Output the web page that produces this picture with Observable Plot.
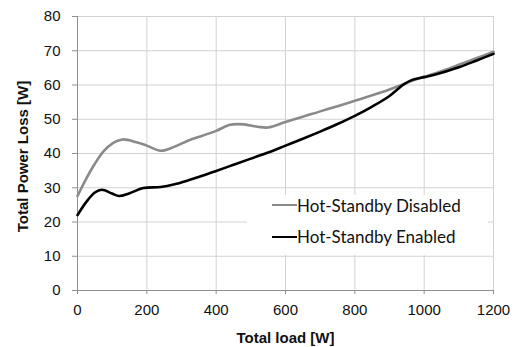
<!DOCTYPE html>
<html><head><meta charset="utf-8">
<script src="https://cdn.jsdelivr.net/npm/d3@7"></script>
<script src="https://cdn.jsdelivr.net/npm/@observablehq/plot@0.6"></script>
<style>
body{margin:0;background:#fff}
#wrap{position:relative;width:519px;height:347px;overflow:hidden}
#legend{position:absolute;left:247px;top:195px;width:241px;height:60px;background:#fff;font-family:Lato,'Open Sans',sans-serif;font-size:17px;color:#111}
.row{position:absolute;left:25px;height:20px;display:flex;align-items:center}
.sw{width:25px;height:0;border-top-style:solid;border-top-width:2.5px}
</style>
</head><body><div id="wrap"></div>
<script>
const xTicks = [0, 200, 400, 600, 800, 1000, 1200];
const yTicks = [0, 10, 20, 30, 40, 50, 60, 70, 80];
const seriesNames = ["Hot-Standby Disabled", "Hot-Standby Enabled"];
const seriesColors = ["#8a8a8a", "#000000"];

const disabledLoad = [0, 25, 50, 75, 100, 130, 170, 200, 240, 280, 320, 360, 400, 440, 480, 520, 550, 600, 650, 700, 750, 800, 850, 900, 950, 975, 1000, 1050, 1100, 1150, 1200];
const disabledLoss = [27.6, 32.6, 37, 40.6, 42.9, 44.1, 43.3, 42.3, 40.8, 42, 43.8, 45.2, 46.6, 48.4, 48.5, 47.8, 47.6, 49.2, 50.7, 52.3, 53.8, 55.4, 57, 58.7, 60.6, 61.6, 62.4, 64, 65.9, 67.8, 69.7];

const enabledLoad = [0, 25, 50, 70, 100, 120, 150, 190, 240, 280, 320, 360, 400, 450, 500, 550, 600, 650, 700, 750, 800, 850, 900, 940, 965, 1000, 1030, 1100, 1150, 1200];
const enabledLoss = [22, 25.8, 28.6, 29.4, 28.3, 27.6, 28.4, 29.9, 30.2, 31, 32.2, 33.5, 34.9, 36.7, 38.5, 40.3, 42.3, 44.3, 46.4, 48.6, 51, 53.7, 56.8, 60.1, 61.5, 62.3, 63, 65.2, 67.1, 69.1];

const xTitle = "Total load [W]";
const yTitle = "Total Power Loss [W]";

const data = [
  ...disabledLoad.map((x, i) => ({x, y: disabledLoss[i], s: seriesNames[0]})),
  ...enabledLoad.map((x, i) => ({x, y: enabledLoss[i], s: seriesNames[1]}))
];

const chart = Plot.plot({
  width: 519, height: 347,
  marginLeft: 77, marginRight: 26, marginTop: 16, marginBottom: 57,
  style: {fontFamily: "'Liberation Sans', Arial, sans-serif", fontSize: "15px", color: "#111", background: "#fff"},
  x: {domain: [0, 1200], axis: null},
  y: {domain: [0, 80], axis: null},
  color: {domain: seriesNames, range: seriesColors},
  marks: [
    Plot.gridX(xTicks, {stroke: "#d2d2d2", strokeOpacity: 1}),
    Plot.gridY(yTicks, {stroke: "#d2d2d2", strokeOpacity: 1}),
    Plot.ruleY([0], {stroke: "#8f8f8f"}),
    Plot.ruleX([0], {stroke: "#8f8f8f"}),
    Plot.axisX(xTicks, {tickSize: 4, tickPadding: 10, stroke: "#8f8f8f", fill: "#111", fontSize: 15, tickFormat: d => String(d), label: null}),
    Plot.axisY(yTicks, {tickSize: 5, tickPadding: 12, stroke: "#8f8f8f", fill: "#111", fontSize: 15, tickFormat: d => String(d), label: null}),
    Plot.line(data, {x: "x", y: "y", z: "s", stroke: "s", strokeWidth: 2.6, curve: "catmull-rom"}),
    Plot.text([xTitle], {frameAnchor: "bottom", dy: 48, lineAnchor: "middle", textAnchor: "middle", fontWeight: "bold", fontSize: 15, fill: "#111"}),
    Plot.text([yTitle], {frameAnchor: "left", dx: -54, dy: 3, rotate: -90, textAnchor: "middle", lineAnchor: "middle", fontWeight: "bold", fontSize: 15, fill: "#111"})
  ]
});
const wrap = document.getElementById("wrap");
wrap.appendChild(chart);

const legend = document.createElement("div");
legend.id = "legend";
seriesNames.forEach((name, i) => {
  const row = document.createElement("div");
  row.className = "row";
  row.style.top = (i === 0 ? 0 : 31.5) + "px";
  const sw = document.createElement("span");
  sw.className = "sw";
  sw.style.borderTopColor = seriesColors[i];
  const t = document.createElement("span");
  t.textContent = name;
  row.appendChild(sw);
  row.appendChild(t);
  legend.appendChild(row);
});
wrap.appendChild(legend);
</script>
</body></html>
